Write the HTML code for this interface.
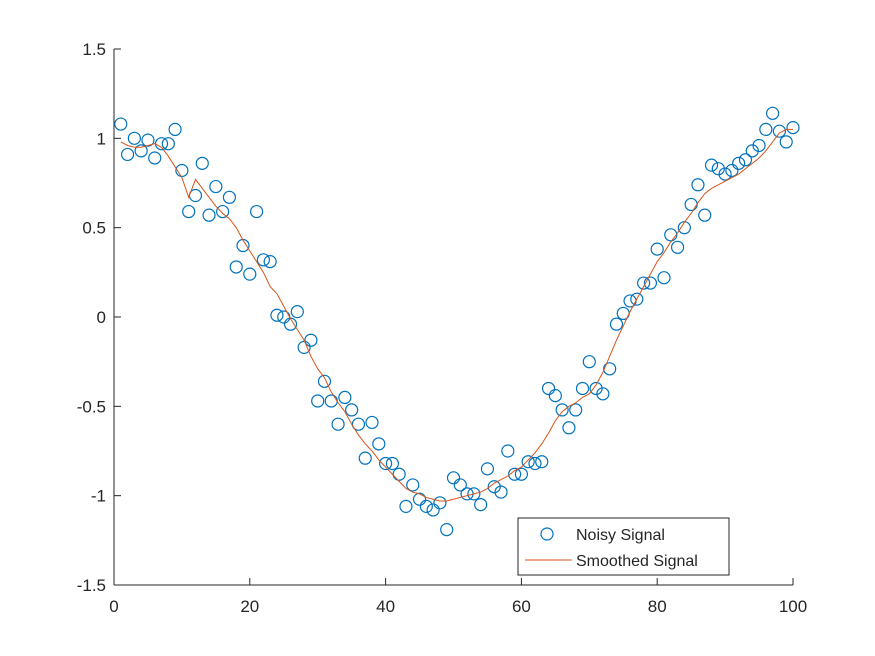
<!DOCTYPE html>
<html><head><meta charset="utf-8"><style>body{margin:0;background:#fff}svg{display:block}text{font-family:"Liberation Sans",Arial,sans-serif;fill:#262626}</style></head>
<body>
<svg id="chart" width="875" height="656" xmlns="http://www.w3.org/2000/svg"></svg>
<script>
const xTicks=[0,20,40,60,80,100];
const yTicks=[-1.5,-1,-0.5,0,0.5,1,1.5];
const yTickLabels=["-1.5","-1","-0.5","0","0.5","1","1.5"];
const noisy=[1.08,0.91,1.0,0.93,0.99,0.89,0.97,0.97,1.05,0.82,0.59,0.68,0.86,0.57,0.73,0.59,0.67,0.28,0.40,0.24,0.59,0.32,0.31,0.01,0.0,-0.04,0.03,-0.17,-0.13,-0.47,-0.36,-0.47,-0.60,-0.45,-0.52,-0.60,-0.79,-0.59,-0.71,-0.82,-0.82,-0.88,-1.06,-0.94,-1.02,-1.06,-1.08,-1.04,-1.19,-0.90,-0.94,-0.99,-0.99,-1.05,-0.85,-0.95,-0.98,-0.75,-0.88,-0.88,-0.81,-0.82,-0.81,-0.40,-0.44,-0.52,-0.62,-0.52,-0.40,-0.25,-0.40,-0.43,-0.29,-0.04,0.02,0.09,0.10,0.19,0.19,0.38,0.22,0.46,0.39,0.50,0.63,0.74,0.57,0.85,0.83,0.80,0.82,0.86,0.88,0.93,0.96,1.05,1.14,1.04,0.98,1.06];
const smooth=[0.98,0.96,0.95,0.95,0.96,0.97,0.95,0.90,0.84,0.78,0.67,0.77,0.72,0.67,0.62,0.58,0.55,0.50,0.43,0.37,0.31,0.25,0.17,0.13,0.06,-0.01,-0.07,-0.13,-0.22,-0.29,-0.34,-0.42,-0.48,-0.53,-0.60,-0.66,-0.71,-0.75,-0.80,-0.84,-0.88,-0.92,-0.96,-0.98,-0.99,-1.01,-1.02,-1.03,-1.03,-1.02,-1.01,-1.00,-0.99,-0.98,-0.96,-0.93,-0.91,-0.89,-0.86,-0.84,-0.80,-0.76,-0.71,-0.65,-0.58,-0.53,-0.50,-0.48,-0.45,-0.43,-0.38,-0.31,-0.22,-0.13,-0.05,0.03,0.10,0.17,0.24,0.31,0.36,0.42,0.47,0.53,0.58,0.64,0.69,0.72,0.74,0.76,0.78,0.80,0.83,0.86,0.89,0.93,0.98,1.03,1.05,1.05];
const NS='http://www.w3.org/2000/svg';
const svg=document.getElementById('chart');
const X0=114,X1=793,Y0=585,Y1=49;
const sx=v=>X0+(v-0)/100*(X1-X0);
const sy=v=>Y0-(v+1.5)/3*(Y0-Y1);
function mk(t,a,p){const e=document.createElementNS(NS,t);for(const k in a)e.setAttribute(k,a[k]);(p||svg).appendChild(e);return e;}
let e;
e=mk('line',{x1:X0,y1:Y0,x2:X1,y2:Y0,stroke:'#262626','stroke-width':1});


e=mk('line',{x1:X0,y1:Y0,x2:X0,y2:Y1,stroke:'#262626','stroke-width':1});


xTicks.forEach(v=>{const x=sx(v);
e=mk('line',{x1:x,y1:Y0,x2:x,y2:Y0-7,stroke:'#262626'});


e=mk('text',{x:x,y:Y0+27,'text-anchor':'middle','font-size':17});e.textContent=v;

});
yTicks.forEach((v,i)=>{const y=sy(v);
e=mk('line',{x1:X0,y1:y,x2:X0+7,y2:y,stroke:'#262626'});


e=mk('text',{x:X0-8,y:y+6,'text-anchor':'end','font-size':17});e.textContent=yTickLabels[i];

});
noisy.forEach((v,i)=>{e=mk('circle',{cx:sx(i+1),cy:sy(v),r:6,fill:'none',stroke:'#0072BD','stroke-width':1.2});

});
e=mk('polyline',{points:smooth.map((v,i)=>sx(i+1)+','+sy(v)).join(' '),fill:'none',stroke:'#D95319','stroke-width':1});


const g=mk('g',{});


mk('rect',{x:518,y:518,width:211,height:57,fill:'#fff',stroke:'#262626','stroke-width':1},g);
mk('circle',{cx:547,cy:534,r:6,fill:'none',stroke:'#0072BD','stroke-width':1.2},g);
mk('line',{x1:525,y1:560,x2:572,y2:560,stroke:'#D95319'},g);
e=mk('text',{x:576,y:540,'font-size':16},g);e.textContent='Noisy Signal';


e=mk('text',{x:576,y:566,'font-size':16},g);e.textContent='Smoothed Signal';


</script>
</body></html>
